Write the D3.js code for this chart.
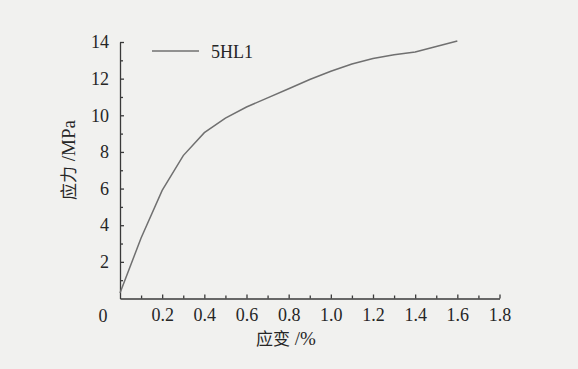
<!DOCTYPE html>
<html>
<head>
<meta charset="utf-8">
<script src="https://cdn.jsdelivr.net/npm/d3@7/dist/d3.min.js"></script>
<style>
  html, body { margin: 0; padding: 0; background: #f1f1ef; }
  svg { display: block; }
</style>
</head>
<body>
<div id="chart"></div>
<script>
// strain (%) vs stress (MPa)
var strain = [0, 0.1, 0.2, 0.3, 0.4, 0.5, 0.6, 0.7, 0.8, 0.9, 1.0, 1.1, 1.2, 1.3, 1.4, 1.5, 1.6];
var stress = [0.3, 3.3, 5.9, 7.8, 9.05, 9.85, 10.45, 10.95, 11.45, 11.95, 12.4, 12.8, 13.1, 13.3, 13.45, 13.75, 14.05];
var seriesName = '5HL1';
var xTicks = [0.2, 0.4, 0.6, 0.8, 1.0, 1.2, 1.4, 1.6, 1.8];
var yTicks = [2, 4, 6, 8, 10, 12, 14];
var xMinor = [0.1, 0.3, 0.5, 0.7, 0.9, 1.1, 1.3, 1.5, 1.7];
var yMinor = [1, 3, 5, 7, 9, 11, 13];

var W = 578, H = 369;
var ink = '#262626';
var serif = '"Liberation Serif", "DejaVu Serif", serif';
var cjk = '"Noto Sans CJK SC", sans-serif';

var svg = d3.select('#chart').append('svg')
	.attr('width', W).attr('height', H);

svg.append('rect').attr('width', W).attr('height', H).attr('fill', '#f1f1ef');

var x = d3.scaleLinear().domain([0, 1.8]).range([120, 499.5]);
var y = d3.scaleLinear().domain([0, 14]).range([298.5, 42]);

function styleAxis(g) {
	g.attr('font-family', serif).attr('font-size', 18);
	g.selectAll('path, line').attr('stroke', '#3a3a3a').attr('stroke-width', 1.3);
	g.selectAll('text').attr('fill', ink)
		.style('font-family', serif).style('font-size', '18px');
}

// minor ticks (no labels)
svg.append('g')
	.attr('transform', 'translate(0,' + y(0) + ')')
	.call(d3.axisBottom(x).tickValues(xMinor).tickSize(-3).tickFormat(''))
	.call(function (g) { g.select('.domain').remove(); })
	.call(styleAxis);
svg.append('g')
	.attr('transform', 'translate(' + x(0) + ',0)')
	.call(d3.axisLeft(y).tickValues(yMinor).tickSize(-3).tickFormat(''))
	.call(function (g) { g.select('.domain').remove(); })
	.call(styleAxis);

// major axes, ticks pointing inward
svg.append('g')
	.attr('transform', 'translate(0,' + y(0) + ')')
	.call(d3.axisBottom(x).tickValues(xTicks).tickSizeInner(-4).tickSizeOuter(0)
		.tickPadding(10).tickFormat(d3.format('.1f')))
	.call(styleAxis);
svg.append('g')
	.attr('transform', 'translate(' + x(0) + ',0)')
	.call(d3.axisLeft(y).tickValues(yTicks).tickSizeInner(-4).tickSizeOuter(0)
		.tickPadding(11).tickFormat(d3.format('d')))
	.call(styleAxis);

// shared origin label
svg.append('text')
	.attr('x', x(0) - 17).attr('y', y(0) + 23)
	.attr('text-anchor', 'middle')
	.attr('font-family', serif)
	.attr('font-size', 18).attr('fill', ink)
	.text('0');

// the curve
var pts = strain.map(function (d, i) { return [d, stress[i]]; });
svg.append('path')
	.datum(pts)
	.attr('fill', 'none')
	.attr('stroke', '#707070')
	.attr('stroke-width', 1.5)
	.attr('d', d3.line()
		.x(function (d) { return x(d[0]); })
		.y(function (d) { return y(d[1]); }));

// legend
svg.append('line')
	.attr('x1', 152).attr('x2', 199).attr('y1', 51).attr('y2', 51)
	.attr('stroke', '#707070').attr('stroke-width', 1.5);
svg.append('text')
	.attr('x', 211).attr('y', 58)
	.attr('font-family', serif)
	.attr('font-size', 18).attr('fill', ink)
	.text(seriesName);

// axis titles: chinese part + latin unit
var xt = svg.append('text')
	.attr('x', 286).attr('y', 345)
	.attr('text-anchor', 'middle')
	.attr('fill', ink);
xt.append('tspan').attr('font-family', cjk).attr('font-size', 17).text('应变');
xt.append('tspan').attr('font-family', serif).attr('font-size', 19).text(' /%');

var yt = svg.append('text')
	.attr('transform', 'translate(75,160) rotate(-90)')
	.attr('text-anchor', 'middle')
	.attr('fill', ink);
yt.append('tspan').attr('font-family', cjk).attr('font-size', 17).text('应力');
yt.append('tspan').attr('font-family', serif).attr('font-size', 19).text(' /MPa');
</script>
</body>
</html>
